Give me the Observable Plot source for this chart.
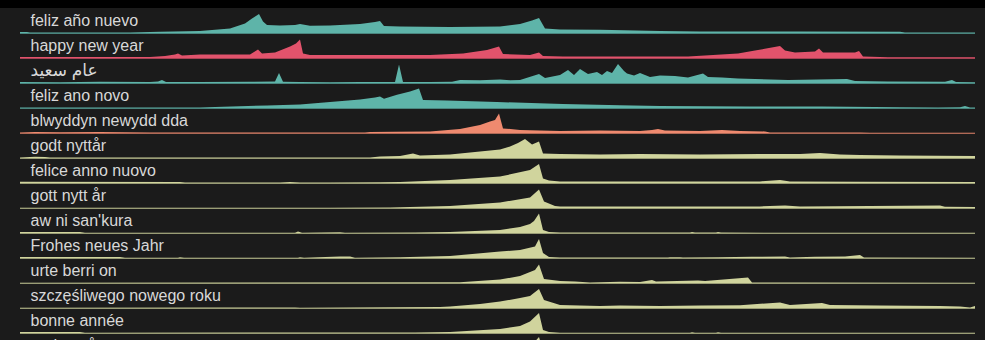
<!DOCTYPE html>
<html>
<head>
<meta charset="utf-8">
<script src="https://cdn.jsdelivr.net/npm/d3@7"></script>
<script src="https://cdn.jsdelivr.net/npm/@observablehq/plot@0.6"></script>
<style>
  html, body { margin: 0; padding: 0; background: #1b1b1b; overflow: hidden; }
  #topband { height: 8px; background: #000; }
  #chart svg { display: block; }
</style>
</head>
<body>
<div id="topband"></div>
<div id="chart"></div>
<script>
// Row labels (top to bottom)
const names = [
  "feliz año nuevo", "happy new year", "عام سعيد", "feliz ano novo",
  "blwyddyn newydd dda", "godt nyttår", "felice anno nuovo", "gott nytt år",
  "aw ni san'kura", "Frohes neues Jahr", "urte berri on",
  "szczęśliwego nowego roku", "bonne année", "godt nytår"
];
const colors = [
  "#5eb4a9", "#e2536c", "#5eb4a9", "#5eb4a9",
  "#ef8a6f", "#d0d49d", "#d0d49d", "#d0d49d",
  "#d0d49d", "#d0d49d", "#d0d49d",
  "#d0d49d", "#d0d49d", "#d0d49d"
];

// Each series: [time step, relative interest]
const s_es = [[20,5],[27,5],[30,2],[130,3],[160,6],[200,10],[230,23],[245,48],[252,73],[259,95],[263,57],[267,40],[280,37],[295,40],[300,45],[310,36],[330,38],[360,45],[375,55],[380,60],[384,35],[400,32],[450,30],[500,32],[520,45],[532,62],[539,75],[545,22],[560,18],[600,16],[660,10],[700,8],[800,7],[900,6],[905,3],[975,2]];
const s_en = [[20,5],[150,5],[165,10],[175,18],[178,23],[182,12],[200,18],[250,18],[258,43],[262,23],[275,27],[290,57],[296,73],[300,93],[303,23],[310,15],[330,15],[430,15],[463,23],[487,40],[499,57],[503,20],[530,15],[539,27],[543,10],[563,7],[688,7],[738,23],[755,37],[780,60],[785,37],[795,27],[815,32],[819,48],[823,27],[855,27],[859,35],[863,7],[888,4],[975,4]];
const s_ar = [[20,5],[60,4],[100,6],[150,5],[158,8],[162,15],[166,5],[200,5],[250,6],[275,8],[279,50],[283,6],[300,5],[330,4],[360,5],[395,5],[399,93],[403,5],[430,5],[452,6],[460,15],[480,14],[500,18],[510,14],[520,15],[539,45],[545,25],[560,40],[568,65],[574,40],[580,70],[588,45],[597,55],[602,40],[607,60],[612,50],[618,95],[624,60],[627,48],[634,38],[640,50],[650,30],[660,38],[675,35],[688,28],[703,48],[708,30],[722,28],[738,23],[755,20],[788,15],[847,20],[855,10],[888,7],[945,6],[952,15],[956,5],[975,4]];
const s_pt = [[20,2],[200,2],[215,5],[267,13],[300,18],[330,30],[360,42],[375,52],[380,58],[384,46],[397,66],[410,82],[419,98],[423,40],[447,37],[497,30],[563,20],[620,14],[660,10],[750,8],[822,7],[900,4],[938,3],[960,4],[965,10],[970,3],[975,3]];
const s_cy = [[20,2],[35,5],[60,4],[100,5],[150,3],[200,2],[365,2],[370,5],[395,6],[430,8],[460,20],[480,40],[490,57],[495,65],[499,98],[503,23],[520,15],[560,10],[600,12],[640,10],[652,15],[658,20],[665,12],[700,10],[722,15],[740,10],[765,8],[770,3],[860,3],[870,1],[975,1]];
const s_no = [[20,2],[35,6],[45,5],[50,2],[330,2],[370,3],[380,8],[400,10],[413,22],[420,12],[450,18],[480,32],[500,43],[510,57],[518,75],[525,95],[532,68],[539,82],[543,23],[560,20],[600,18],[640,20],[700,18],[760,20],[800,20],[820,25],[840,18],[860,15],[900,12],[975,10]];
const s_it = [[20,6],[180,5],[185,2],[280,3],[290,5],[300,2],[330,2],[380,4],[400,5],[450,15],[500,32],[530,65],[539,95],[543,23],[549,12],[560,8],[660,8],[760,8],[780,15],[790,8],[860,6],[975,5]];
const s_sv = [[20,1],[330,1],[390,2],[400,4],[450,10],[500,27],[530,53],[539,93],[544,32],[555,10],[560,8],[660,7],[760,8],[785,12],[800,7],[940,12],[945,6],[975,5]];
const s_bm = [[20,5],[80,5],[85,1],[295,1],[298,7],[302,1],[340,4],[345,1],[415,3],[450,5],[500,15],[520,30],[530,45],[534,60],[539,98],[543,15],[549,5],[560,2],[690,2],[692,5],[695,2],[716,2],[718,5],[721,2],[975,1]];
const s_de = [[20,5],[120,5],[125,1],[178,1],[180,4],[184,1],[298,1],[300,4],[304,1],[340,7],[350,7],[355,1],[400,4],[450,10],[500,32],[520,40],[535,57],[539,95],[543,25],[549,5],[560,2],[668,2],[670,4],[680,4],[683,2],[718,4],[752,6],[785,8],[790,2],[815,6],[845,8],[860,15],[864,2],[975,1]];
const s_eu = [[20,1],[460,4],[500,17],[520,35],[535,65],[539,93],[544,20],[560,10],[575,7],[590,2],[620,6],[640,5],[652,15],[656,8],[698,12],[705,10],[748,28],[752,3],[800,2],[975,1]];
const s_pl = [[20,1],[230,3],[250,2],[295,3],[300,1],[440,5],[450,8],[480,20],[500,32],[520,50],[530,60],[539,95],[544,40],[560,15],[600,10],[620,12],[660,10],[700,12],[740,14],[780,28],[790,15],[822,25],[830,15],[880,12],[940,10],[960,8],[970,3],[975,10]];
const s_fr = [[20,5],[80,5],[85,1],[415,3],[450,5],[500,20],[520,35],[530,57],[539,100],[543,15],[549,5],[560,1],[690,1],[692,4],[695,1],[716,1],[718,4],[721,1],[975,1]];
const s_da = [[20,3],[400,3],[450,6],[500,20],[520,35],[530,55],[539,105],[544,20],[560,5],[975,3]];

const series = [s_es, s_en, s_ar, s_pt, s_cy, s_no, s_it, s_sv, s_bm, s_de, s_eu, s_pl, s_fr, s_da];

const rowsTable = names.map((name, i) => ({name, color: colors[i]}));
const data = names.flatMap((name, i) => series[i].map(([t, v]) => ({name, t, v})));

const chart = Plot.plot({
  width: 985,
  height: 350,
  marginLeft: 20,
  marginRight: 10,
  marginTop: 0,
  marginBottom: 0,
  style: {background: "transparent", color: "#d8d8d8", fontFamily: "'Liberation Sans', Arial, 'DejaVu Sans', sans-serif"},
  x: {domain: [20, 975], axis: null},
  y: {domain: [0, 125], axis: null},
  fy: {domain: names, axis: null, padding: 0},
  color: {domain: names, range: colors},
  marks: [
    Plot.areaY(data, {x: "t", y: "v", fy: "name", fill: "name", curve: "linear"}),
    Plot.ruleY(rowsTable, {y: d => 0, fy: "name", stroke: "name", strokeWidth: 1.2, strokeOpacity: 0.7}),
    Plot.text(rowsTable, {
      fy: "name", text: "name", frameAnchor: "bottom-left", textAnchor: "start",
      lineAnchor: "bottom", dx: 10, dy: -7.5,
      fontSize: d => /[\u0600-\u06FF]/.test(d.name) ? 17 : 16,
      fill: "#d8d8d8"
    })
  ]
});
document.getElementById("chart").appendChild(chart);
</script>
</body>
</html>
